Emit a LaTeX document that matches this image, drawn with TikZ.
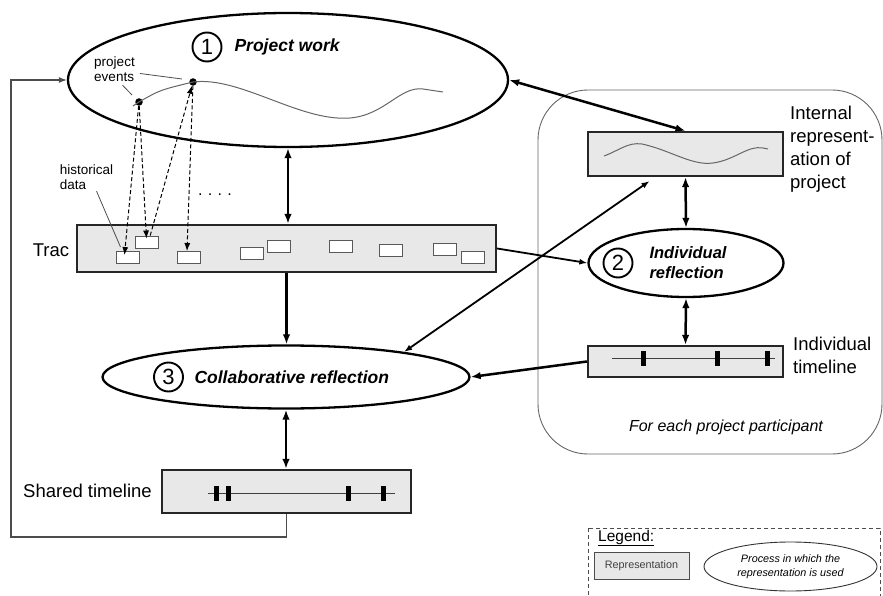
\documentclass[tikz,border=0pt]{standalone}
\usepackage{fontspec}
\setmainfont{Liberation Sans}
\usepackage{tikz}
\usetikzlibrary{arrows.meta}
\usetikzlibrary{shapes.geometric}

\newcommand{\fsz}[1]{\fontsize{#1}{1.2\dimexpr#1pt\relax}\selectfont}

\tikzset{
  process/.style={draw, ellipse, line width=2.3pt, inner sep=0pt},
  repbox/.style={draw=black!85, fill=black!9, line width=2.2pt, inner sep=0pt},
  entry/.style={draw=black!65, fill=white, line width=0.9pt,
                minimum width=23pt, minimum height=12pt, inner sep=0pt},
  num/.style={draw, circle, line width=1.9pt, minimum size=29pt,
              inner sep=0pt, font=\fsz{22}},
  ptitle/.style={font=\fsz{17.5}\bfseries\itshape},
  biglabel/.style={font=\fontsize{18.5}{23}\selectfont, align=left, inner sep=2pt},
  smalllabel/.style={font=\fontsize{13.5}{15}\selectfont, align=left, inner sep=1pt},
  event/.style={circle, fill=black, minimum size=7.5pt, inner sep=0pt},
  bigtip/.tip={Latex[length=10pt, width=7.5pt]},
  smalltip/.tip={Latex[length=8pt, width=6pt]},
  link/.style={line width=2.5pt, -bigtip},
  twoway/.style={line width=2.5pt, bigtip-bigtip},
  thinlink/.style={line width=1.8pt, -smalltip},
  thintwoway/.style={line width=1.8pt, smalltip-smalltip},
  trace/.style={dash pattern=on 4pt off 2.5pt, line width=1pt, -{Latex[length=8pt, width=6pt]}},
  pointer/.style={draw=black!70, line width=0.8pt},
  wave/.style={draw=black!60, line width=1pt},
  tickbar/.style={fill=black, minimum width=5pt, minimum height=15pt, inner sep=0pt},
}

\begin{document}
\begin{tikzpicture}[x=1pt,y=-1pt]
\useasboundingbox (0,0) rectangle (883,596);

% project work
\node[process, minimum width=440pt, minimum height=134pt] (work) at (288,80) {};
\node[num] (n1) at (207,47) {1};
\node[ptitle, anchor=west] (worktxt) at (231,47) {Project work};
\node[smalllabel] (evlabel) at (114.5,69.5) {project\\events};

\node[event] (e1) at (139,102) {};
\node[event] (e2) at (193,82) {};
\draw[wave] (133,106) -- (e1.center) .. controls (160,90) .. (e2.center)
  .. controls (240,76) and (300,122) .. (350,118)
  .. controls (385,115) and (400,86) .. (423,89) -- (443,92);
\draw[pointer] ([shift={(4,4)}]evlabel.east) -- ([shift={(-11,-3)}]e2.center);
\draw[pointer] ([shift={(8,2)}]evlabel.south) -- ([shift={(-7,-7)}]e1.center);

% trac
\node[repbox, minimum width=419pt, minimum height=47pt] (trac) at (286.5,248.5) {};
\node[biglabel] (tractxt) at (51,250) {Trac};
\foreach \x/\y [count=\i] in {127.5/257.5, 146.5/242, 189/257.5, 251.5/253.5,
    278.5/246, 341/246, 391/250, 445/249.5, 472.5/257}
  \node[entry] (d\i) at (\x,\y) {};
\node[smalllabel] (hist) at (86.5,177.5) {historical\\data};
\draw[pointer] ([xshift=10pt]hist.south) -- ([shift={(-7,-4)}]d1.north);
\node[font=\fsz{16}, anchor=base] (more) at (215,196) {.\,\,.\,\,.\,\,.};

\draw[trace] (e1) -- ([xshift=-3pt,yshift=-4pt]d1.north);
\draw[trace] (e1) -- ([yshift=-3pt]d2.north);
\draw[trace] (d2.60) -- (e2);
\draw[trace] (e2) -- ([xshift=-2pt]d3.north);

% collaborative reflection
\node[process, minimum width=367pt, minimum height=63pt] (collab) at (286,377) {};
\node[num] (n3) at (168.5,377) {3};
\node[ptitle, anchor=west] (collabtxt) at (191,377) {Collaborative reflection};

% shared timeline
\node[repbox, minimum width=249pt, minimum height=43pt] (shared) at (286.5,491.5) {};
\node[biglabel] (sharedtxt) at (87.5,491) {Shared timeline};
\draw[black!75, line width=0.9pt] (208,493) -- (395,493);
\foreach \x [count=\i] in {216,228,348,383}
  \node[tickbar] (s\i) at (\x,493) {};

\coordinate (loop) at (11,537);
\draw[black!70, line width=1.1pt, -{Latex[length=8pt, width=6pt]}] (shared.south) |- (loop) |- (work.west);

% for each project participant
\node[draw=black!60, line width=0.9pt, rounded corners=50pt,
      minimum width=344pt, minimum height=364pt] (group) at (710,272) {};
\node[font=\fsz{16}\itshape] (grouptxt) at (726,427) {For each project participant};

\node[repbox, minimum width=195pt, minimum height=44pt] (inner) at (685.5,154) {};
\draw[wave] (604,156) .. controls (620,150) and (628,142) .. (642,144)
  .. controls (670,150) and (692,166) .. (713,163)
  .. controls (735,160) and (748,145) .. (763,148) -- (768,149);
\node[biglabel, anchor=west] (innertxt) at (788,149.5)
  {Internal\\represent-\\ation of\\project};

\node[process, minimum width=195pt, minimum height=68pt] (indiv) at (686,263) {};
\node[num] (n2) at (618,263) {2};
\node[ptitle, font=\fsz{16.5}\bfseries\itshape, align=left, anchor=west] (indivtxt)
  at (646,263) {Individual\\reflection};

\node[repbox, minimum width=195pt, minimum height=31pt] (indtl) at (685.5,361.5) {};
\draw[black!75, line width=0.9pt] (612,358) -- (775,358);
\foreach \x [count=\i] in {643,717,767}
  \node[tickbar] (t\i) at (\x,358) {};
\node[biglabel, anchor=west] (indtltxt) at (791,355) {Individual\\timeline};

% connectors
\draw[twoway] (work.south) -- (work.south |- trac.north);
\draw[link] (trac.south) -- (trac.south |- collab.north);
\draw[twoway] (collab.south) -- (collab.south |- shared.north);
\draw[twoway] (work.east) -- (inner.north);
\draw[twoway] (inner.south) -- (indiv.north);
\draw[twoway] (indiv.south) -- (indtl.north);
\draw[thinlink] (trac.east) -- (indiv.west);
\draw[thintwoway] (collab.12) -- ([shift={(-36,4)}]inner.south);
\draw[link] (indtl.west) -- (collab.east);

% legend
\draw[black!70, dash pattern=on 4pt off 3pt, line width=0.9pt] (588,528) rectangle (880,620);
\node[anchor=west, font=\fsz{15.5}, inner sep=0pt] (legtxt) at (598,538) {\underline{Legend:}};
\node[draw=black!70, fill=black!9, line width=0.9pt, minimum width=95pt,
      minimum height=27pt, font=\fsz{10.8}, text=black!75] (legbox) at (641.5,565.5) {Representation};
\node[draw=black!80, ellipse, line width=0.9pt, minimum width=173pt, minimum height=49pt,
      inner sep=0pt, font=\fontsize{10.8}{14}\selectfont\itshape, align=center] (legproc)
  at (790.5,566.5) {Process in which the\\representation is used};
\end{tikzpicture}
\end{document}
